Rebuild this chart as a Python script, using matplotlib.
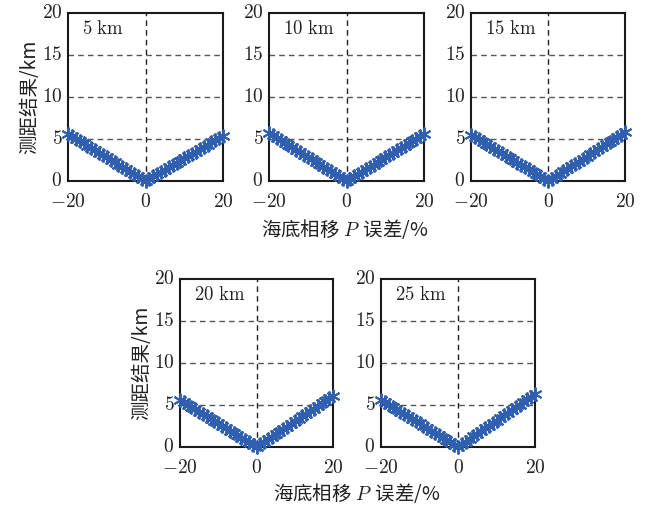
import numpy as np
import matplotlib
matplotlib.use("Agg")
import matplotlib.pyplot as plt
import matplotlib.transforms as mtransforms
from matplotlib.ticker import FixedLocator, FixedFormatter

plt.rcParams['font.family'] = ['Noto Sans CJK SC', 'DejaVu Serif']
plt.rcParams['mathtext.fontset'] = 'cm'
plt.rcParams['axes.unicode_minus'] = True

# Phase error of the seabed phase shift P (%), step 1 %
phase_err = list(range(-20, 21))

distances = ["5 km", "10 km", "15 km", "20 km", "25 km"]

range_5km = [5.60, 5.32, 5.04, 4.76, 4.48, 4.20, 3.92, 3.64, 3.36, 3.08,
             2.80, 2.52, 2.24, 1.96, 1.68, 1.40, 1.12, 0.84, 0.56, 0.28,
             0.05,
             0.27, 0.54, 0.81, 1.08, 1.35, 1.62, 1.89, 2.16, 2.43, 2.70,
             2.97, 3.24, 3.51, 3.78, 4.05, 4.32, 4.59, 4.86, 5.13, 5.40]
range_10km = [5.70, 5.42, 5.13, 4.85, 4.56, 4.28, 3.99, 3.71, 3.42, 3.14,
              2.85, 2.57, 2.28, 2.00, 1.71, 1.43, 1.14, 0.86, 0.57, 0.29,
              0.05,
              0.28, 0.56, 0.84, 1.12, 1.40, 1.68, 1.96, 2.24, 2.52, 2.80,
              3.08, 3.36, 3.64, 3.92, 4.20, 4.48, 4.76, 5.04, 5.32, 5.60]
range_15km = [5.50, 5.23, 4.95, 4.68, 4.40, 4.13, 3.85, 3.58, 3.30, 3.03,
              2.75, 2.48, 2.20, 1.93, 1.65, 1.38, 1.10, 0.83, 0.55, 0.28,
              0.05,
              0.29, 0.58, 0.87, 1.16, 1.45, 1.74, 2.03, 2.32, 2.61, 2.90,
              3.19, 3.48, 3.77, 4.06, 4.35, 4.64, 4.93, 5.22, 5.51, 5.80]
range_20km = [5.60, 5.32, 5.04, 4.76, 4.48, 4.20, 3.92, 3.64, 3.36, 3.08,
              2.80, 2.52, 2.24, 1.96, 1.68, 1.40, 1.12, 0.84, 0.56, 0.28,
              0.05,
              0.31, 0.61, 0.92, 1.22, 1.53, 1.83, 2.14, 2.44, 2.75, 3.05,
              3.36, 3.66, 3.97, 4.27, 4.58, 4.88, 5.19, 5.49, 5.80, 6.10]
range_25km = [5.60, 5.32, 5.04, 4.76, 4.48, 4.20, 3.92, 3.64, 3.36, 3.08,
              2.80, 2.52, 2.24, 1.96, 1.68, 1.40, 1.12, 0.84, 0.56, 0.28,
              0.05,
              0.32, 0.63, 0.95, 1.26, 1.58, 1.89, 2.21, 2.52, 2.84, 3.15,
              3.47, 3.78, 4.10, 4.41, 4.73, 5.04, 5.36, 5.67, 5.99, 6.30]
series = [range_5km, range_10km, range_15km, range_20km, range_25km]

x_ticks = [-20, 0, 20]
x_tick_labels = ["$-20$", "$0$", "$20$"]
y_ticks = [0, 5, 10, 15, 20]
y_tick_labels = ["$0$", "$5$", "$10$", "$15$", "$20$"]

W, H = 651, 509
fig = plt.figure(figsize=(W / 100, H / 100), dpi=100)

# axes boxes in pixels: left, top, right, bottom
boxes = [(68, 13, 223, 181), (269, 13, 424, 181), (471, 13, 625, 181),
         (180, 279, 333, 447), (381, 279, 535, 447)]

blue = "#2f5fae"
asterisk = (6, 2, 0)
lift = mtransforms.ScaledTranslation(0, 2.5 / 72, fig.dpi_scale_trans)

axes = []
for (l, t, r, b), name, y in zip(boxes, distances, series):
    ax = fig.add_axes([l / W, 1 - b / H, (r - l) / W, (b - t) / H])
    ax.plot(phase_err, y, color=blue, lw=2.4, marker=asterisk,
            ms=10, mew=1.4, clip_on=False, zorder=3)
    ax.set_xlim(-20, 20)
    ax.set_ylim(0, 20)
    ax.xaxis.set_major_locator(FixedLocator(x_ticks))
    ax.xaxis.set_major_formatter(FixedFormatter(x_tick_labels))
    ax.yaxis.set_major_locator(FixedLocator(y_ticks))
    ax.yaxis.set_major_formatter(FixedFormatter(y_tick_labels))
    ax.tick_params(length=0, labelsize=14, colors="#222222")
    ax.tick_params(axis="x", pad=7)
    ax.tick_params(axis="y", pad=4)
    for lab in ax.get_yticklabels():
        lab.set_transform(lab.get_transform() + lift)
    for yv in (5, 10, 15):
        ax.axhline(yv, color="#555555", ls=(0, (4, 3)), lw=1.0, zorder=1)
    ax.axvline(0, color="#222222", ls=(0, (4, 3)), lw=1.0, zorder=1)
    for s in ax.spines.values():
        s.set_linewidth(1.5)
        s.set_color("#1a1a1a")
    num, unit = name.split()
    ax.text(0.09, 0.905, r"$\mathrm{%s\ %s}$" % (num, unit),
            transform=ax.transAxes, fontsize=13.5, ha="left", va="center",
            color="#222222")
    axes.append(ax)

ylabel = "测距结果/km"
xlabel = r"海底相移 $P\,$ 误差/%"
axes[0].set_ylabel(ylabel, fontsize=14, labelpad=1, color="#222222")
axes[3].set_ylabel(ylabel, fontsize=14, labelpad=1, color="#222222")
fig.text(345 / W, 1 - 229 / H, xlabel, fontsize=14, ha="center",
         va="center", color="#222222")
fig.text(357 / W, 1 - 493 / H, xlabel, fontsize=14, ha="center",
         va="center", color="#222222")

fig.savefig("out.png", dpi=100, facecolor="white")
